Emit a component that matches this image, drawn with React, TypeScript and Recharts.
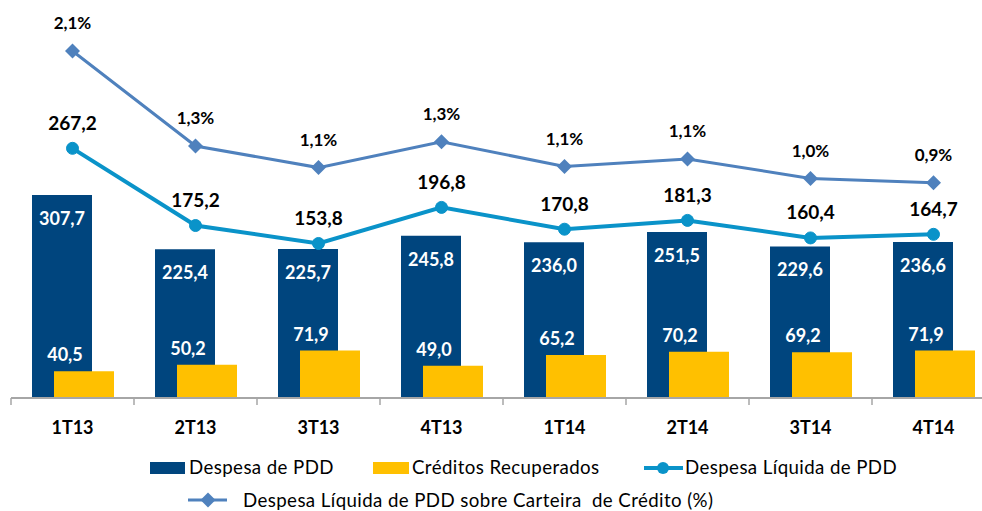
import React from 'react';
import { ComposedChart, Bar, Line, XAxis, YAxis, LabelList } from 'recharts';

const categories = ['1T13', '2T13', '3T13', '4T13', '1T14', '2T14', '3T14', '4T14'];
const despesaPDD = [307.7, 225.4, 225.7, 245.8, 236.0, 251.5, 229.6, 236.6];
const creditosRecuperados = [40.5, 50.2, 71.9, 49.0, 65.2, 70.2, 69.2, 71.9];
const despesaLiquida = [267.2, 175.2, 153.8, 196.8, 170.8, 181.3, 160.4, 164.7];
const pctCarteira = [2.14, 1.26, 1.06, 1.3, 1.07, 1.14, 0.96, 0.92];

const legendLabels = [
  'Despesa de PDD',
  'Créditos Recuperados',
  'Despesa Líquida de PDD',
  'Despesa Líquida de PDD sobre Carteira  de Crédito (%)',
];

const data = categories.map((cat, i) => ({
  cat,
  pdd: despesaPDD[i],
  rec: creditosRecuperados[i],
  liq: despesaLiquida[i],
  pct: pctCarteira[i],
}));

const C_DARK = '#00457E';
const C_YELLOW = '#FFC000';
const C_LIQ = '#0A93C9';
const C_PCT = '#4F81BD';
const C_AXIS = '#A6A6A6';
const FONT = "Lato, 'Open Sans', sans-serif";

const W = 1000;
const H = 511;
const MARGIN = { top: 10, right: 5, left: 11, bottom: 83 };
const BAND = (W - MARGIN.left - MARGIN.right) / categories.length;

const fmt = (v: number) => Number(v).toFixed(1).replace('.', ',');

const DarkLabel = (p: any) => (
  <text x={p.x + p.width / 2} y={p.y + 23} fill="#fff" textAnchor="middle" dominantBaseline="central"
    fontFamily={FONT} fontWeight={700} fontSize={18}>{fmt(p.value)}</text>
);
const RecLabel = (p: any) => (
  <text x={p.x + 11} y={p.y - 17} fill="#fff" textAnchor="middle" dominantBaseline="central"
    fontFamily={FONT} fontWeight={700} fontSize={18}>{fmt(p.value)}</text>
);
const LiqLabel = (p: any) => (
  <text x={p.x} y={p.y - 26} fill="#000" textAnchor="middle" dominantBaseline="central"
    fontFamily={FONT} fontWeight={700} fontSize={19}>{fmt(p.value)}</text>
);
const PctLabel = (p: any) => (
  <text x={p.x} y={p.y - 28} fill="#000" textAnchor="middle" dominantBaseline="central"
    fontFamily={FONT} fontWeight={700} fontSize={17}>{fmt(p.value) + '%'}</text>
);

const Diamond = (p: any) => {
  const { cx, cy } = p;
  if (cx == null || cy == null) return null;
  const r = 7.5;
  return <polygon points={`${cx},${cy - r} ${cx + r},${cy} ${cx},${cy + r} ${cx - r},${cy}`} fill={C_PCT} />;
};

const CatTick = (p: any) => {
  const { x, y, payload, index } = p;
  const half = payload && payload.offset ? payload.offset : BAND / 2;
  return (
    <g>
      <line x1={x - half} x2={x - half} y1={y} y2={y + 7} stroke={C_AXIS} strokeWidth={1.5} />
      {index === categories.length - 1 && (
        <line x1={x + half} x2={x + half} y1={y} y2={y + 7} stroke={C_AXIS} strokeWidth={1.5} />
      )}
      <text x={x} y={y + 29} textAnchor="middle" dominantBaseline="central" fontFamily={FONT}
        fontWeight={700} fontSize={18} fill="#000">{payload.value}</text>
    </g>
  );
};

const legendText: React.CSSProperties = {
  position: 'absolute',
  fontFamily: FONT,
  fontSize: 18.7,
  color: '#000',
  lineHeight: '22px',
  whiteSpace: 'pre',
  letterSpacing: 0.4,
};

export default function App() {
  return (
    <div style={{ position: 'absolute', left: 0, top: 0, width: 982, height: 511, overflow: 'hidden', background: '#fff' }}>
      <ComposedChart width={W} height={H} data={data} margin={MARGIN} barGap={-38} barSize={60}>
        <XAxis dataKey="cat" interval={0} height={30} tickLine={false} tickSize={0} tickMargin={0}
          axisLine={{ stroke: C_AXIS, strokeWidth: 2 }} tick={<CatTick />} />
        <YAxis yAxisId="bar" hide domain={[0, 588]} allowDataOverflow />
        <YAxis yAxisId="liq" hide domain={[-30.4, 432.1]} allowDataOverflow />
        <YAxis yAxisId="pct" hide domain={[-1.073, 2.519]} allowDataOverflow />
        <Bar yAxisId="bar" dataKey="pdd" fill={C_DARK} isAnimationActive={false}>
          <LabelList dataKey="pdd" content={<DarkLabel />} />
        </Bar>
        <Bar yAxisId="bar" dataKey="rec" fill={C_YELLOW} isAnimationActive={false}>
          <LabelList dataKey="rec" content={<RecLabel />} />
        </Bar>
        <Line yAxisId="liq" dataKey="liq" stroke={C_LIQ} strokeWidth={4} isAnimationActive={false}
          dot={{ r: 6, fill: C_LIQ, stroke: C_LIQ, strokeWidth: 1 }}>
          <LabelList dataKey="liq" content={<LiqLabel />} />
        </Line>
        <Line yAxisId="pct" dataKey="pct" stroke={C_PCT} strokeWidth={3} isAnimationActive={false}
          dot={<Diamond />}>
          <LabelList dataKey="pct" content={<PctLabel />} />
        </Line>
      </ComposedChart>

      {/* Legend */}
      <div style={{ position: 'absolute', left: 150, top: 462, width: 35, height: 12, background: C_DARK }} />
      <div style={{ ...legendText, left: 189, top: 456 }}>{legendLabels[0]}</div>
      <div style={{ position: 'absolute', left: 373, top: 462, width: 36, height: 12, background: C_YELLOW }} />
      <div style={{ ...legendText, left: 412, top: 456 }}>{legendLabels[1]}</div>
      <svg style={{ position: 'absolute', left: 640, top: 458 }} width={46} height={20}>
        <line x1={4} x2={43} y1={10} y2={10} stroke={C_LIQ} strokeWidth={4} />
        <circle cx={23} cy={10} r={6} fill={C_LIQ} />
      </svg>
      <div style={{ ...legendText, left: 685, top: 456 }}>{legendLabels[2]}</div>
      <svg style={{ position: 'absolute', left: 185, top: 490 }} width={46} height={20}>
        <line x1={3} x2={42} y1={10} y2={10} stroke={C_PCT} strokeWidth={3} />
        <polygon points="23,2.5 30.5,10 23,17.5 15.5,10" fill={C_PCT} />
      </svg>
      <div style={{ ...legendText, left: 243, top: 489 }}>{legendLabels[3]}</div>
    </div>
  );
}
